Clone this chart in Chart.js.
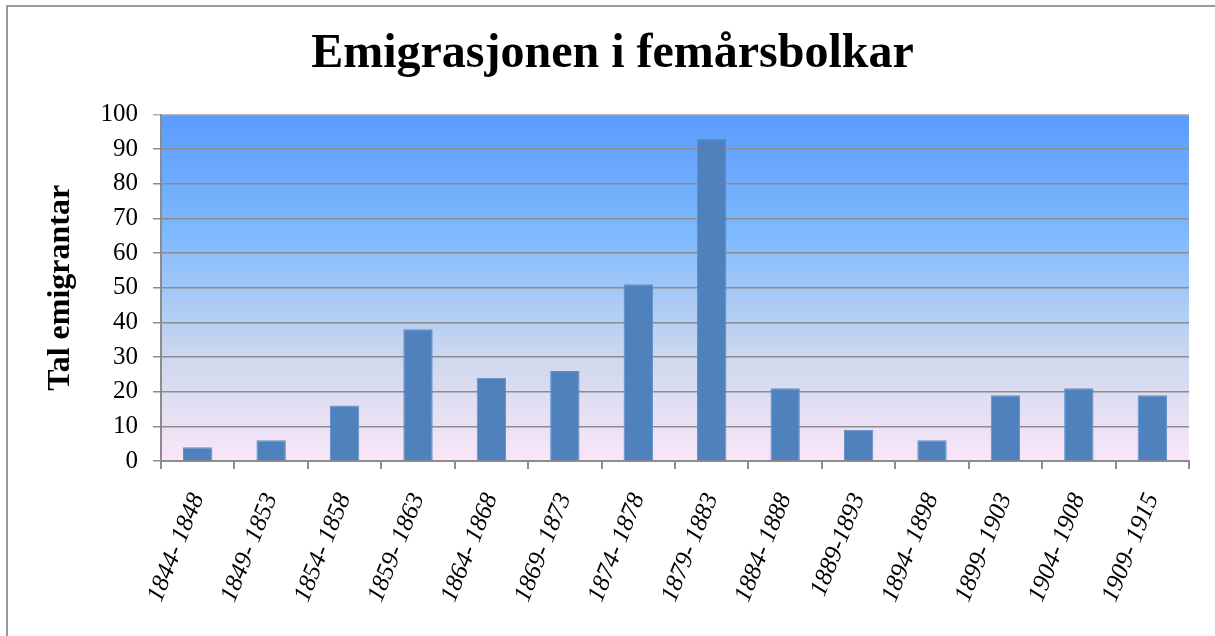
<!DOCTYPE html>
<html lang="nn">
<head>
<meta charset="UTF-8">
<title>Emigrasjonen i femårsbolkar</title>
<script src="https://cdn.jsdelivr.net/npm/chart.js"></script>
<style>
  html, body { margin: 0; padding: 0; background: #fff; }
  #wrap { width: 1215px; height: 636px; }
</style>
</head>
<body>
<div id="wrap"><canvas id="emiChart" width="1215" height="636"></canvas></div>
<script>
const periodar = ['1844- 1848', '1849- 1853', '1854- 1858', '1859- 1863', '1864- 1868', '1869- 1873',
                  '1874- 1878', '1879- 1883', '1884- 1888', '1889-1893', '1894- 1898', '1899- 1903',
                  '1904- 1908', '1909- 1915'];
const emigrantar = [4, 6, 16, 38, 24, 26, 51, 93, 21, 9, 6, 19, 21, 19];

const serif = "'Liberation Serif', 'Times New Roman', serif";
const gridGray = '#8c8c8c';

// gradient bak plottet + ramme rundt heile diagrammet
const bakgrunn = {
    id: 'bakgrunn',
    beforeDraw(chart) {
        const { ctx, chartArea: a } = chart;
        ctx.save();
        const g = ctx.createLinearGradient(0, a.top, 0, a.bottom);
        g.addColorStop(0, '#5b9bff');
        g.addColorStop(0.35, '#80bafd');
        g.addColorStop(0.7, '#cdd8ee');
        g.addColorStop(1, '#fae6f8');
        ctx.fillStyle = g;
        ctx.fillRect(a.left, a.top, a.right - a.left, a.bottom - a.top);

        ctx.strokeStyle = '#9a9a9a';
        ctx.lineWidth = 2;
        ctx.beginPath();
        ctx.moveTo(7, 636);
        ctx.lineTo(7, 6);
        ctx.lineTo(1215, 6);
        ctx.stroke();
        ctx.restore();
    }
};

new Chart(document.getElementById('emiChart'), {
    type: 'bar',
    data: {
        labels: periodar,
        datasets: [{
            label: 'Tal emigrantar',
            data: emigrantar,
            backgroundColor: '#4f81bd',
            borderColor: '#5d8ecb',
            borderWidth: 1,
            barPercentage: 0.4,
            categoryPercentage: 1.0
        }]
    },
    options: {
        responsive: false,
        animation: false,
        layout: { padding: { left: 36, right: 26, top: 0, bottom: 0 } },
        plugins: {
            legend: { display: false },
            tooltip: { enabled: false },
            title: {
                display: true,
                text: 'Emigrasjonen i femårsbolkar',
                color: '#000',
                font: { family: serif, size: 48, weight: 'bold' },
                padding: { top: 26, bottom: 31 }
            }
        },
        scales: {
            y: {
                min: 0,
                max: 100,
                afterFit(scale) { scale.width = 125; },
                ticks: {
                    stepSize: 10,
                    color: '#000',
                    padding: 15,
                    font: { family: serif, size: 25 }
                },
                grid: {
                    color: ctx => ctx.tick && ctx.tick.value === 100 ? '#b4b4b4' : gridGray,
                    lineWidth: 1.5,
                    tickLength: 8
                },
                border: { color: gridGray, width: 2 },
                title: {
                    display: true,
                    text: 'Tal emigrantar',
                    color: '#000',
                    font: { family: serif, size: 32, weight: 'bold' },
                    padding: { top: 6, bottom: 0 }
                }
            },
            x: {
                afterFit(scale) { scale.height = 175; },
                ticks: {
                    autoSkip: false,
                    minRotation: 68,
                    maxRotation: 68,
                    padding: 20,
                    color: '#000',
                    font: { family: serif, size: 25, style: 'italic' }
                },
                grid: { drawOnChartArea: false, color: gridGray, lineWidth: 2, tickLength: 8 },
                border: { color: gridGray, width: 2 }
            }
        }
    },
    plugins: [bakgrunn]
});
</script>
</body>
</html>
